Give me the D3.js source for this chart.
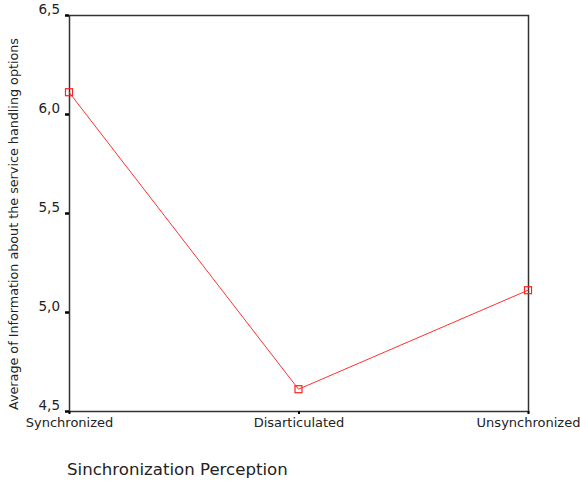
<!DOCTYPE html>
<html><head><meta charset="utf-8">
<script src="https://cdn.jsdelivr.net/npm/d3@7"></script>
<style>body{margin:0;background:#fff}svg{display:block}</style>
</head><body><svg id="c" width="580" height="481"></svg>
<script>
const categories = ["Synchronized", "Disarticulated", "Unsynchronized"];
const values = [6.11, 4.61, 5.11];
const yTicks = [4.5, 5.0, 5.5, 6.0, 6.5];
const yLabel = "Average of Information about the service handling options";
const xLabel = "Sinchronization Perception";

const svg = d3.select("#c");
const L = 69, R = 528, T = 15, B = 411;
const x = d3.scalePoint().domain(categories).range([L, R]).padding(0);
const y = d3.scaleLinear().domain([4.5, 6.5]).range([B, T]);
const font = "'DejaVu Sans', Verdana, sans-serif";

// frame
svg.append("rect").attr("x", L + 0.5).attr("y", T + 0.5).attr("width", R - L).attr("height", B - T)
  .attr("fill", "none").attr("stroke", "#333").attr("stroke-width", 1.5);

// y axis
const yAx = svg.append("g").attr("transform", `translate(${L},0)`)
  .call(d3.axisLeft(y).tickValues(yTicks).tickSize(4).tickPadding(5)
    .tickFormat(d => d3.format(".1f")(d).replace(".", ",")));
yAx.select(".domain").remove();
yAx.selectAll(".tick line").attr("stroke", "#000").attr("stroke-width", 2.5);
yAx.selectAll("text").attr("font-family", font).attr("font-size", 13.5).attr("fill", "#222").attr("dy", "-0.1em");

// x axis
const xAx = svg.append("g").attr("transform", `translate(0,${B})`)
  .call(d3.axisBottom(x).tickSize(3).tickPadding(4));
xAx.select(".domain").remove();
xAx.selectAll(".tick line").attr("stroke", "#000").attr("stroke-width", 2);
xAx.selectAll("text").attr("font-family", font).attr("font-size", 13).attr("fill", "#222");

// line
const line = d3.line().x((d, i) => x(categories[i])).y(d => y(d));
svg.append("path").datum(values).attr("d", line).attr("fill", "none")
  .attr("stroke", "#ff3030").attr("stroke-width", 1);
svg.selectAll("rect.pt").data(values).enter().append("rect").attr("class", "pt")
  .attr("x", (d, i) => x(categories[i]) - 3.5).attr("y", d => y(d) - 3.5)
  .attr("width", 7).attr("height", 7).attr("fill", "none").attr("stroke", "#ff2020").attr("stroke-width", 1.2);

// titles
svg.append("text").attr("transform", `translate(18,224) rotate(-90)`)
  .attr("text-anchor", "middle").attr("font-family", font).attr("font-size", 12.2).attr("fill", "#222")
  .attr("textLength", 372).attr("lengthAdjust", "spacingAndGlyphs").text(yLabel);
svg.append("text").attr("x", 67).attr("y", 475).attr("font-family", font).attr("font-size", 16.6)
  .attr("fill", "#222").text(xLabel);
</script></body></html>
